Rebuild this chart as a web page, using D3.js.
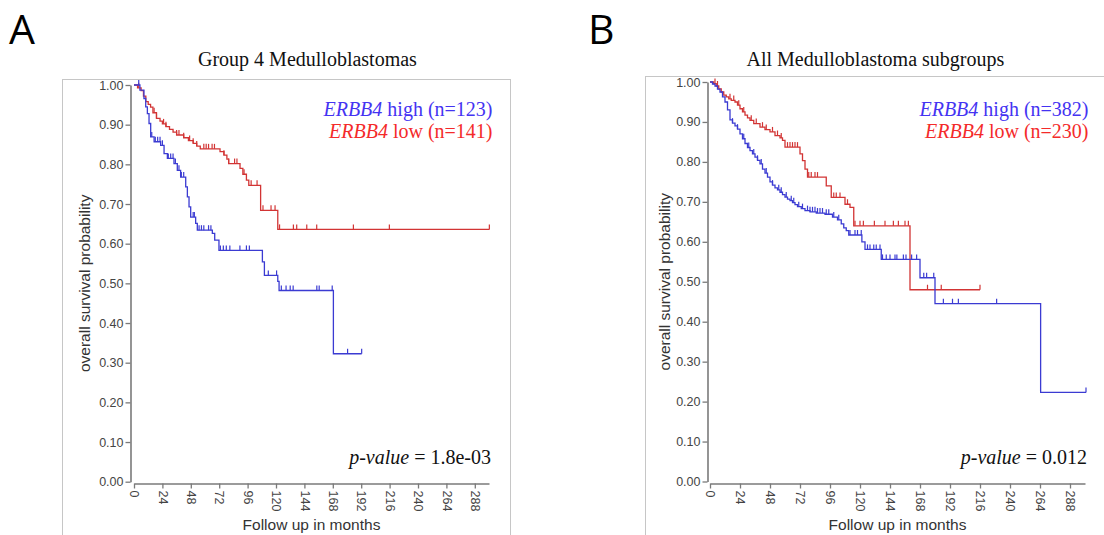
<!DOCTYPE html>
<html>
<head>
<meta charset="utf-8">
<script src="https://cdn.jsdelivr.net/npm/d3@7"></script>
<style>
  html, body { margin: 0; padding: 0; background: #fff; }
  svg { display: block; }
</style>
</head>
<body>
<svg id="chart" width="1104" height="535"></svg>
<script>
// ---------------- DATA ----------------
const xTickValues = [0, 24, 48, 72, 96, 120, 144, 168, 192, 216, 240, 264, 288];
const yTickValues = [0, 0.1, 0.2, 0.3, 0.4, 0.5, 0.6, 0.7, 0.8, 0.9, 1.0];

const panelLetters = ["A", "B"];
const panelTitles = ["Group 4 Medulloblastomas", "All Medulloblastoma subgroups"];
const seriesGenes = ["ERBB4", "ERBB4"];
const highLabels = [" high (n=123)", " high (n=382)"];
const lowLabels = [" low (n=141)", " low (n=230)"];
const pValues = ["1.8e-03", "0.012"];

// Panel A – ERBB4 high (Group 4)
const aHighTimes = [0, 5, 8.4, 9.9, 11.3, 12.7, 14.1, 17, 22.5, 25.4, 28.2, 33.8, 36.6, 39.4, 43.7, 45.1, 46.5, 47.9, 52.1, 53.5, 66.2, 68.2, 71.8, 108.5, 110.2, 121.5, 122.6, 168.5];
const aHighSurv  = [1.0, 0.987, 0.966, 0.945, 0.928, 0.903, 0.869, 0.857, 0.848, 0.827, 0.815, 0.802, 0.785, 0.768, 0.743, 0.718, 0.693, 0.667, 0.651, 0.634, 0.626, 0.609, 0.583, 0.554, 0.52, 0.505, 0.482, 0.3225];
const aHighEnd = 192.4;
const aHighCensor = [4, 15, 18, 20, 22, 24, 29, 31, 33, 35, 38, 40, 42, 50, 51, 55, 57, 59, 63, 65, 73, 75.5, 78, 81, 89.5, 95, 97.5, 113.5, 120.5, 124.5, 128.5, 132, 134.5, 154.5, 156.5, 167.5, 180.5, 192.4];

// Panel A – ERBB4 low (Group 4)
const aLowTimes = [0, 3, 6, 8, 10, 12, 14, 16, 19, 22, 24, 27, 30, 33, 36, 42, 46, 50, 53, 56, 72.7, 76, 78.5, 80, 89.6, 92, 95, 97, 107, 121.5];
const aLowSurv  = [1.0, 0.993, 0.986, 0.972, 0.958, 0.951, 0.944, 0.93, 0.916, 0.909, 0.902, 0.895, 0.888, 0.881, 0.874, 0.867, 0.86, 0.853, 0.846, 0.839, 0.832, 0.823, 0.813, 0.802, 0.79, 0.775, 0.76, 0.747, 0.684, 0.636];
const aLowEnd = 300.3;
const aLowCensor = [4, 17, 19, 25, 27, 36, 38, 42, 47, 50, 53, 59, 61, 63, 66, 68, 76, 80, 85, 87, 93, 99, 104, 109, 115.8, 119.2, 123, 134.7, 137.5, 146, 154.4, 185.4, 215.8, 300.3];

// Panel B – ERBB4 high (all subgroups)
const bHighTimes = [0, 2, 4, 6, 8, 10, 12, 14, 16, 18, 20, 22, 24, 26, 28, 30, 32, 34, 36, 38, 40, 42, 44, 46, 48, 50, 52, 54, 56, 58, 60, 62, 64, 66, 68, 70, 73, 76, 80, 85, 92, 98, 102, 105, 107, 109, 111, 121.5, 124, 137, 168, 180, 264.5];
const bHighSurv  = [1.0, 0.995, 0.99, 0.982, 0.975, 0.963, 0.95, 0.93, 0.905, 0.897, 0.89, 0.882, 0.87, 0.858, 0.846, 0.836, 0.828, 0.82, 0.812, 0.804, 0.795, 0.782, 0.772, 0.762, 0.75, 0.742, 0.735, 0.73, 0.724, 0.718, 0.712, 0.707, 0.703, 0.698, 0.693, 0.688, 0.683, 0.678, 0.675, 0.672, 0.669, 0.662, 0.655, 0.645, 0.635, 0.628, 0.617, 0.6, 0.581, 0.556, 0.51, 0.445, 0.223];
const bHighEnd = 300.8;
const bHighCensor = [18, 22, 27, 31, 35, 38, 41, 45, 50, 55, 57, 61, 65, 67, 71, 74, 78, 80, 82, 84, 86, 88, 90, 93, 95, 99, 103, 112, 116, 118, 121, 126, 128, 131, 133, 136, 138, 141, 144, 148, 149.5, 154.7, 156.8, 161.3, 165.3, 171, 173.3, 179, 186.7, 194, 198.7, 229.3, 300.8];

// Panel B – ERBB4 low (all subgroups)
const bLowTimes = [0, 3, 5, 7, 9, 11, 13, 15, 17, 20, 22, 24, 26, 28, 30, 32, 35, 40, 44, 48, 52, 56, 58, 60, 72, 74, 76, 78, 93, 97, 108, 112, 115, 160];
const bLowSurv  = [1.0, 0.996, 0.99, 0.983, 0.975, 0.967, 0.963, 0.958, 0.954, 0.95, 0.942, 0.933, 0.925, 0.917, 0.91, 0.904, 0.896, 0.887, 0.881, 0.875, 0.866, 0.86, 0.854, 0.837, 0.82, 0.803, 0.782, 0.762, 0.74, 0.711, 0.694, 0.686, 0.64, 0.48];
const bLowEnd = 216;
const bLowCensor = [4, 6, 16, 19, 23, 27, 33, 37, 42, 45, 50, 54, 57, 62, 64, 66, 68, 70, 79, 81, 84, 86, 99, 101, 104, 110, 116, 120, 122.7, 131.5, 140, 146.7, 150.7, 156, 158.7, 174, 185, 216];

// ---------------- LAYOUT / STYLE ----------------
const BLUE_LINE = "#3b3bd2";
const RED_LINE = "#d23434";
const BLUE_TEXT = "#4433f2";
const RED_TEXT = "#f42a2a";
const AXIS_COLOR = "#7a7a7a";
const SANS = "'Liberation Sans', Arial, Helvetica, sans-serif";
const SERIF = "'Liberation Serif', 'Times New Roman', serif";

const panels = [
  {
    letterX: 9, titleX: 198,
    frame: { x: 62.5, y: 79.5, w: 448, h: 480 },
    xRange: [134, 489], yRange: [481.7, 85],
    yAxisX: 130.5, xAxisY: 483.5, yTitleX: 90,
    high: { t: aHighTimes, s: aHighSurv, end: aHighEnd, c: aHighCensor },
    low: { t: aLowTimes, s: aLowSurv, end: aLowEnd, c: aLowCensor }
  },
  {
    letterX: 588, titleX: 746.5,
    frame: { x: 645.5, y: 76.5, w: 480, h: 480 },
    xRange: [710, 1085], yRange: [481.5, 82],
    yAxisX: 707.5, xAxisY: 483.5, yTitleX: 670,
    high: { t: bHighTimes, s: bHighSurv, end: bHighEnd, c: bHighCensor },
    low: { t: bLowTimes, s: bLowSurv, end: bLowEnd, c: bLowCensor }
  }
];

const svg = d3.select("#chart");

function survAt(times, surv, t) {
  let v = surv[0];
  for (let i = 0; i < times.length; i++) {
    if (times[i] <= t) v = surv[i];
  }
  return v;
}

panels.forEach((p, i) => {
  const g = svg.append("g");
  const x = d3.scaleLinear().domain([0, 300]).range(p.xRange);
  const y = d3.scaleLinear().domain([0, 1]).range(p.yRange);

  // frame
  g.append("rect")
    .attr("x", p.frame.x).attr("y", p.frame.y)
    .attr("width", p.frame.w).attr("height", p.frame.h)
    .attr("fill", "none").attr("stroke", "#c6c6c6").attr("stroke-width", 1);

  // panel letter
  g.append("text")
    .attr("x", p.letterX).attr("y", 44)
    .style("font-family", "'Open Sans', 'Noto Sans', sans-serif")
    .style("font-size", "41px").attr("fill", "#000")
    .text(panelLetters[i]);

  // title
  g.append("text")
    .attr("x", p.titleX).attr("y", 66)
    .style("font-family", SERIF).style("font-size", "20px").attr("fill", "#111")
    .text(panelTitles[i]);

  // y axis
  const yAxis = d3.axisLeft(y).tickValues(yTickValues)
    .tickFormat(d3.format(".2f")).tickSize(5).tickSizeOuter(0).tickPadding(2);
  const ya = g.append("g").attr("transform", `translate(${p.yAxisX},0)`).call(yAxis);
  ya.select(".domain").attr("stroke", AXIS_COLOR).attr("stroke-width", 1.6);
  ya.selectAll(".tick line").attr("stroke", AXIS_COLOR).attr("stroke-width", 1.3);
  ya.selectAll(".tick text").style("font-family", SANS).style("font-size", "12.5px").attr("fill", "#444");

  // x axis
  const xAxis = d3.axisBottom(x).tickValues(xTickValues).tickSize(5).tickSizeOuter(0);
  const xa = g.append("g").attr("transform", `translate(0,${p.xAxisY})`).call(xAxis);
  xa.select(".domain").attr("stroke", AXIS_COLOR).attr("stroke-width", 1.6);
  xa.selectAll(".tick line").attr("stroke", AXIS_COLOR).attr("stroke-width", 1.3);
  xa.selectAll(".tick text")
    .attr("transform", "rotate(90)")
    .attr("x", 7).attr("y", 0).attr("dy", "0.35em")
    .style("text-anchor", "start")
    .style("font-family", SANS).style("font-size", "12.5px").attr("fill", "#444");

  // axis titles
  g.append("text")
    .attr("x", (p.xRange[0] + p.xRange[1]) / 2).attr("y", 530)
    .attr("text-anchor", "middle")
    .style("font-family", SANS).style("font-size", "15.5px").attr("fill", "#333")
    .text("Follow up in months");
  g.append("text")
    .attr("transform", `translate(${p.yTitleX},${(p.yRange[0] + p.yRange[1]) / 2}) rotate(-90)`)
    .attr("text-anchor", "middle")
    .style("font-family", SANS).style("font-size", "15.5px").attr("fill", "#333")
    .text("overall survival probability");

  // curves
  const line = d3.line().x(d => x(d[0])).y(d => y(d[1])).curve(d3.curveStepAfter);
  [[p.low, RED_LINE], [p.high, BLUE_LINE]].forEach(([ser, col]) => {
    const pts = ser.t.map((t, k) => [t, ser.s[k]]);
    pts.push([ser.end, ser.s[ser.s.length - 1]]);
    g.append("path").datum(pts)
      .attr("d", line).attr("fill", "none")
      .attr("stroke", col).attr("stroke-width", 1.3);
    g.append("g").selectAll("line").data(ser.c).join("line")
      .attr("x1", d => x(d)).attr("x2", d => x(d))
      .attr("y1", d => y(survAt(ser.t, ser.s, d)))
      .attr("y2", d => y(survAt(ser.t, ser.s, d)) - 5)
      .attr("stroke", col).attr("stroke-width", 1.2);
  });

  // legend
  const lx = p.xRange[1] + 3.5;
  const t1 = g.append("text").attr("x", lx).attr("y", 116).attr("text-anchor", "end")
    .style("font-family", SERIF).style("font-size", "20px").attr("fill", BLUE_TEXT);
  t1.append("tspan").style("font-style", "italic").text(seriesGenes[i]);
  t1.append("tspan").text(highLabels[i]);
  const t2 = g.append("text").attr("x", lx).attr("y", 137.5).attr("text-anchor", "end")
    .style("font-family", SERIF).style("font-size", "20px").attr("fill", RED_TEXT);
  t2.append("tspan").style("font-style", "italic").text(seriesGenes[i]);
  t2.append("tspan").text(lowLabels[i]);

  // p-value
  const pv = g.append("text").attr("x", p.xRange[1] + 2).attr("y", 464).attr("text-anchor", "end")
    .style("font-family", SERIF).style("font-size", "20px").attr("fill", "#111");
  pv.append("tspan").style("font-style", "italic").text("p-value");
  pv.append("tspan").text(" = " + pValues[i]);
});
</script>
</body>
</html>
